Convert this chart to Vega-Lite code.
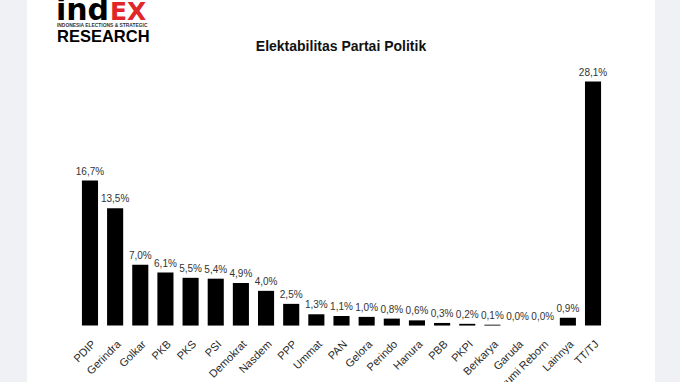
{
  "$schema": "https://vega.github.io/schema/vega-lite/v6.json",
  "width": 628,
  "height": 382,
  "autosize": {"type": "none"},
  "padding": {"left": 27, "right": 25, "top": 0, "bottom": 0},
  "background": "#eff1f4",
  "config": {
    "view": {"fill": "white", "stroke": null},
    "font": "Liberation Sans"
  },
  "title": {
    "text": "Elektabilitas Partai Politik",
    "anchor": "middle",
    "offset": -58,
    "fontSize": 14,
    "fontWeight": "bold",
    "color": "#111",
    "font": "Liberation Sans"
  },
  "layer": [
    {
      "data": {"name": "parties"},
      "mark": {"type": "bar", "color": "black"},
      "encoding": {
        "x": {
          "field": "partai", "type": "nominal",
          "scale": {"paddingInner": 0.36, "paddingOuter": 0.18, "range": [50.4, 578.6],
            "domain": ["PDIP", "Gerindra", "Golkar", "PKB", "PKS", "PSI", "Demokrat", "Nasdem", "PPP", "Ummat", "PAN", "Gelora", "Perindo", "Hanura", "PBB", "PKPI", "Berkarya", "Garuda", "Masyumi Reborn", "Lainnya", "TT/TJ"]},
          "axis": {
            "title": null, "labelAngle": -45, "ticks": false, "domain": false,
            "labelFontSize": 11, "labelColor": "#2a2a2a", "labelPadding": 2,
            "offset": -46, "labelFont": "Liberation Sans"
          }
        },
        "y": {
          "field": "nilai", "type": "quantitative",
          "scale": {"domain": [-6.5, 37.5], "nice": false, "zero": false},
          "axis": null
        }
      }
    },
    {
      "data": {"name": "parties"},
      "mark": {"type": "text", "baseline": "bottom", "dy": -4, "fontSize": 10, "color": "#333"},
      "encoding": {
        "x": {"field": "partai", "type": "nominal"},
        "y": {"field": "nilai", "type": "quantitative"},
        "text": {"field": "label"}
      }
    },
    {
      "data": {"values": [{"logo": "ind", "partai": "PDIP", "pos": 35.2}]},
      "mark": {"type": "text", "align": "left", "baseline": "alphabetic", "dx": -34, "fontSize": 30, "fontWeight": "bold", "font": "DejaVu Sans", "color": "black"},
      "encoding": {
        "x": {"field": "partai", "type": "nominal"},
        "y": {"field": "pos", "type": "quantitative"},
        "text": {"field": "logo"}
      }
    },
    {
      "data": {"values": [{"logo": "EX", "partai": "PDIP", "pos": 35.2}]},
      "mark": {"type": "text", "align": "left", "baseline": "alphabetic", "dx": 20, "fontSize": 25, "fontWeight": "bold", "font": "DejaVu Sans", "color": "#e1262b"},
      "encoding": {
        "x": {"field": "partai", "type": "nominal"},
        "y": {"field": "pos", "type": "quantitative"},
        "text": {"field": "logo"}
      }
    },
    {
      "data": {"values": [{"logo": "INDONESIA ELECTIONS & STRATEGIC", "partai": "PDIP", "pos": 34.4}]},
      "mark": {"type": "text", "align": "left", "baseline": "alphabetic", "dx": -33, "fontSize": 4.9, "fontWeight": "bold", "color": "#333"},
      "encoding": {
        "x": {"field": "partai", "type": "nominal"},
        "y": {"field": "pos", "type": "quantitative"},
        "text": {"field": "logo"}
      }
    },
    {
      "data": {"values": [{"logo": "RESEARCH", "partai": "PDIP", "pos": 32.66}]},
      "mark": {"type": "text", "align": "left", "baseline": "alphabetic", "dx": -33, "fontSize": 16.5, "fontWeight": "bold", "font": "Liberation Sans", "color": "black"},
      "encoding": {
        "x": {"field": "partai", "type": "nominal"},
        "y": {"field": "pos", "type": "quantitative"},
        "text": {"field": "logo"}
      }
    }
  ],
  "datasets": {
    "parties": [
      {"partai": "PDIP", "nilai": 16.7, "label": "16,7%"},
      {"partai": "Gerindra", "nilai": 13.5, "label": "13,5%"},
      {"partai": "Golkar", "nilai": 7.0, "label": "7,0%"},
      {"partai": "PKB", "nilai": 6.1, "label": "6,1%"},
      {"partai": "PKS", "nilai": 5.5, "label": "5,5%"},
      {"partai": "PSI", "nilai": 5.4, "label": "5,4%"},
      {"partai": "Demokrat", "nilai": 4.9, "label": "4,9%"},
      {"partai": "Nasdem", "nilai": 4.0, "label": "4,0%"},
      {"partai": "PPP", "nilai": 2.5, "label": "2,5%"},
      {"partai": "Ummat", "nilai": 1.3, "label": "1,3%"},
      {"partai": "PAN", "nilai": 1.1, "label": "1,1%"},
      {"partai": "Gelora", "nilai": 1.0, "label": "1,0%"},
      {"partai": "Perindo", "nilai": 0.8, "label": "0,8%"},
      {"partai": "Hanura", "nilai": 0.6, "label": "0,6%"},
      {"partai": "PBB", "nilai": 0.3, "label": "0,3%"},
      {"partai": "PKPI", "nilai": 0.2, "label": "0,2%"},
      {"partai": "Berkarya", "nilai": 0.1, "label": "0,1%"},
      {"partai": "Garuda", "nilai": 0.0, "label": "0,0%"},
      {"partai": "Masyumi Reborn", "nilai": 0.0, "label": "0,0%"},
      {"partai": "Lainnya", "nilai": 0.9, "label": "0,9%"},
      {"partai": "TT/TJ", "nilai": 28.1, "label": "28,1%"}
    ]
  }
}
